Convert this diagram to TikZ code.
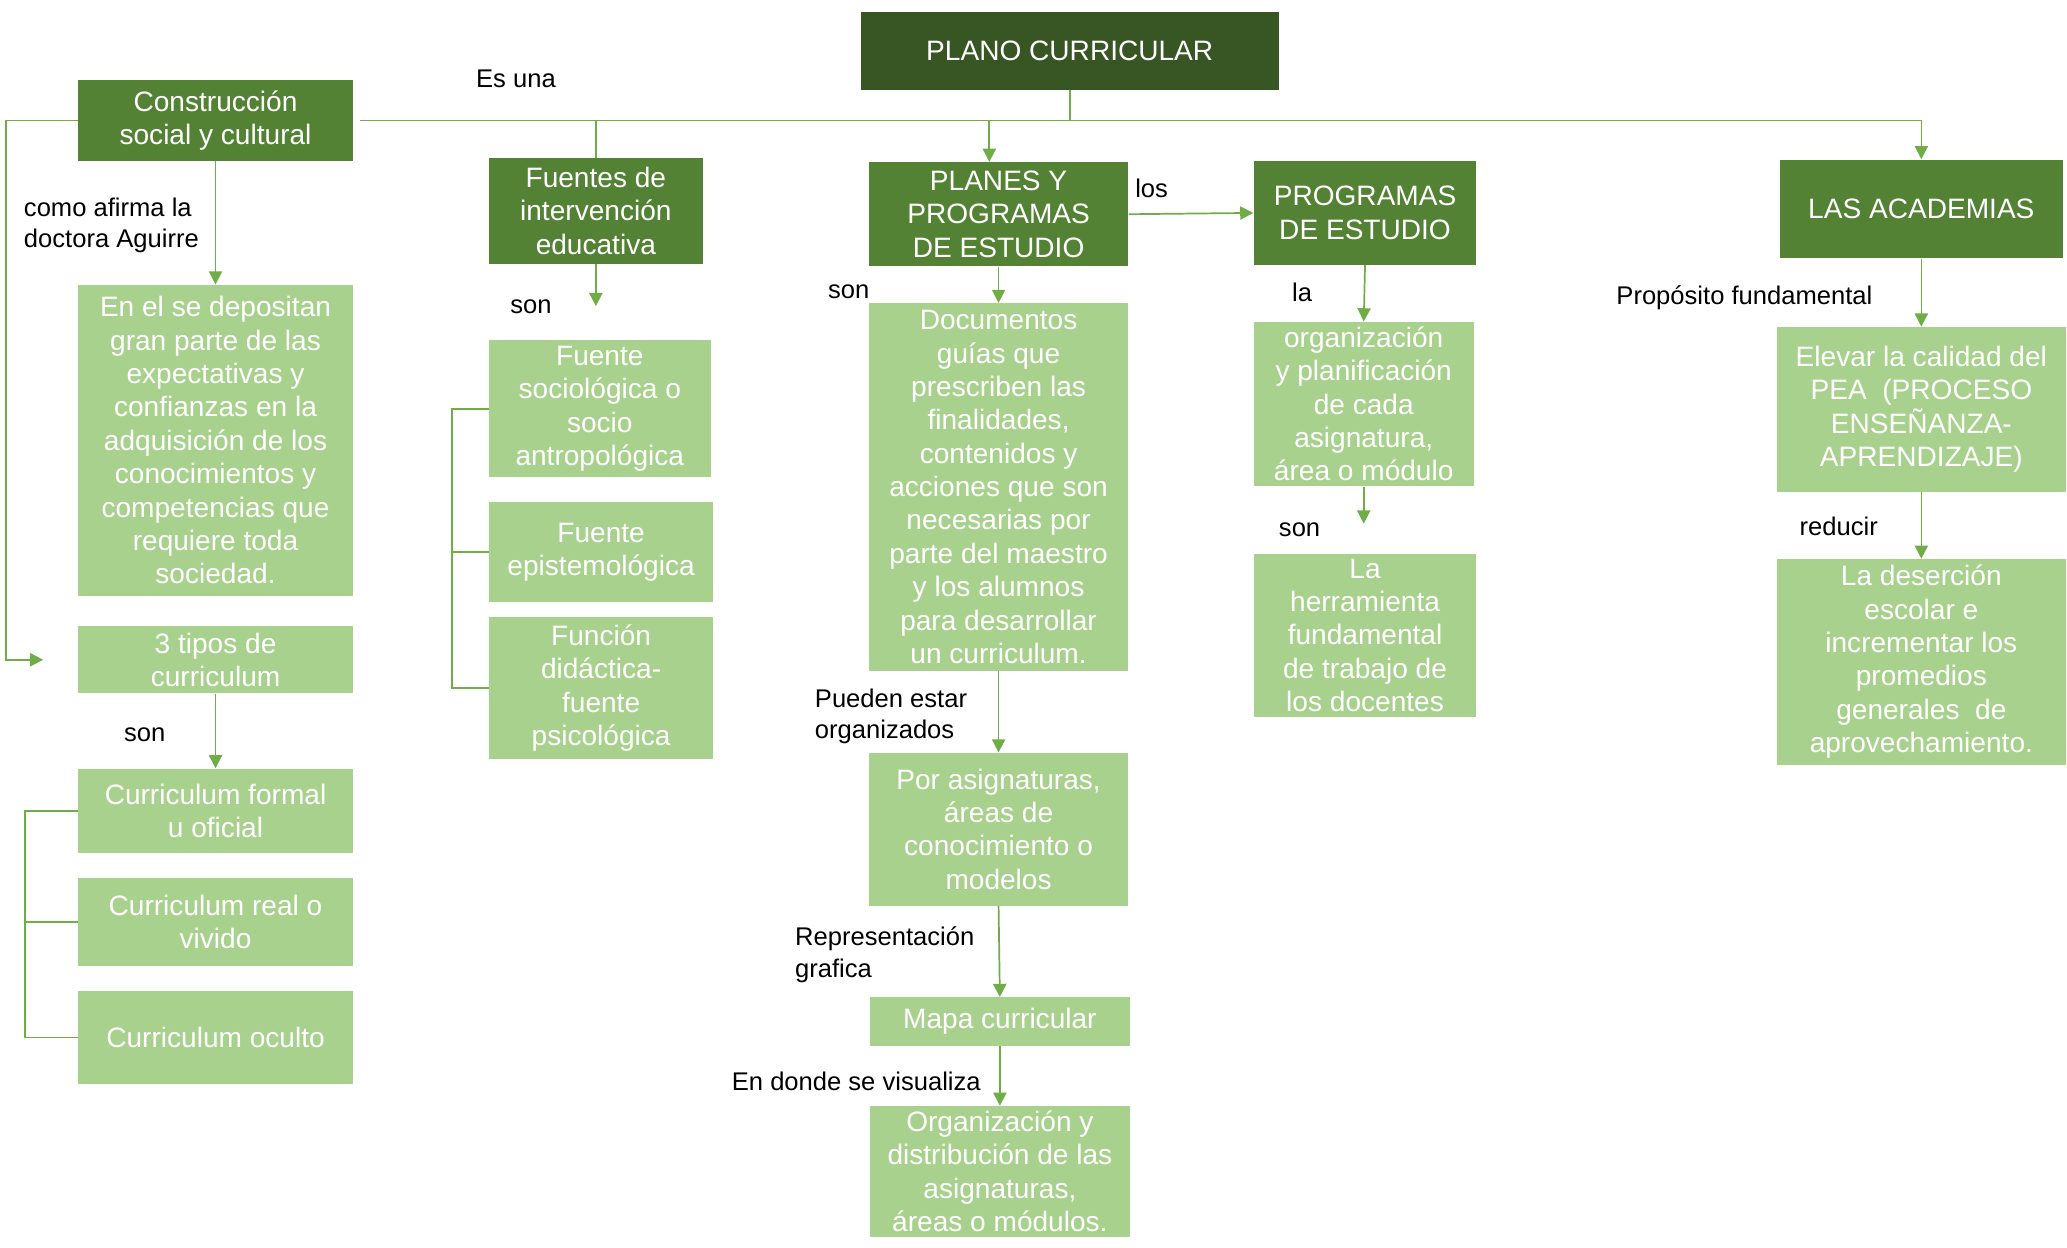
\documentclass[tikz,border=0pt]{standalone}
\usepackage{fontspec}
\setmainfont{Liberation Sans}
\usetikzlibrary{arrows.meta}
\definecolor{darkgreen}{HTML}{375623}
\definecolor{midgreen}{HTML}{548235}
\definecolor{lightgreen}{HTML}{A9D18E}
\definecolor{linegreen}{HTML}{70AD47}

\begin{document}
\begin{tikzpicture}[
  x=1pt,
  y=-1pt,
  box/.style={
    inner sep=0pt,
    align=center,
    text=white,
    font=\fontsize{21.3}{25.3}\selectfont
  },
  topbox/.style={
    box,
    fill=darkgreen
  },
  darkbox/.style={
    box,
    fill=midgreen
  },
  lightbox/.style={
    box,
    fill=lightgreen
  },
  link/.style={
    draw=linegreen,
    line width=1.3pt
  },
  arrowlink/.style={
    link,
    -{Triangle[length=10pt,width=10pt]}
  },
  lbl/.style={
    inner sep=0pt,
    anchor=west,
    align=left,
    yshift=-2pt,
    font=\fontsize{19.4}{24}\selectfont
  },
]
\fill[white] (0,0) rectangle (1568,946);
\useasboundingbox (0,0) rectangle (1568,946);

% top row
\node[topbox, minimum width=317pt, minimum height=59pt] (plano) at (811.5,38.5) {PLANO CURRICULAR};
\node[darkbox, minimum width=209pt, minimum height=61pt] (cons) at (163.5,91.5) {Construcción\\social y cultural};
\node[darkbox, minimum width=162pt, minimum height=80pt] (fuentes) at (452,160) {Fuentes de\\intervención\\educativa};
\node[darkbox, minimum width=197pt, minimum height=79pt] (planes) at (757.5,162.5) {PLANES Y\\PROGRAMAS\\DE ESTUDIO};
\node[darkbox, minimum width=169pt, minimum height=79pt] (programas) at (1035.5,161.5) {PROGRAMAS\\DE ESTUDIO};
\node[darkbox, minimum width=215pt, minimum height=75pt] (academias) at (1457.5,158.5) {LAS ACADEMIAS};

% first column
\node[lightbox, minimum width=209pt, minimum height=236pt] (deposit) at (163.5,334) {En el se depositan\\gran parte de las\\expectativas y\\confianzas en la\\adquisición de los\\conocimientos y\\competencias que\\requiere toda\\sociedad.};
\node[lightbox, minimum width=209pt, minimum height=51pt] (tipos) at (163.5,500.5) {3 tipos de\\curriculum};
\node[lightbox, minimum width=209pt, minimum height=64pt] (formal) at (163.5,615) {Curriculum formal\\u oficial};
\node[lightbox, minimum width=209pt, minimum height=67pt] (real) at (163.5,699.5) {Curriculum real o\\vivido};
\node[lightbox, minimum width=209pt, minimum height=70pt] (oculto) at (163.5,787) {Curriculum oculto};

% fuentes
\node[lightbox, minimum width=168pt, minimum height=104pt] (socio) at (455,310) {Fuente\\sociológica o\\socio\\antropológica};
\node[lightbox, minimum width=170pt, minimum height=76pt] (episte) at (456,419) {Fuente\\epistemológica};
\node[lightbox, minimum width=170pt, minimum height=108pt] (didact) at (456,522) {Función\\didáctica-\\fuente\\psicológica};

% planes y programas
\node[lightbox, minimum width=197pt, minimum height=279pt] (docs) at (757.5,369.5) {Documentos\\guías que\\prescriben las\\finalidades,\\contenidos y\\acciones que son\\necesarias por\\parte del maestro\\y los alumnos\\para desarrollar\\un curriculum.};
\node[lightbox, minimum width=197pt, minimum height=116pt] (asign) at (757.5,629) {Por asignaturas,\\áreas de\\conocimiento o\\modelos};
\node[lightbox, minimum width=197pt, minimum height=37pt] (mapa) at (758.5,775) {Mapa curricular};
\node[lightbox, minimum width=197pt, minimum height=99pt] (distrib) at (758.5,888.5) {Organización y\\distribución de las\\asignaturas,\\áreas o módulos.};

% programas
\node[lightbox, minimum width=167pt, minimum height=125pt] (planif) at (1034.5,306.5) {organización\\y planificación\\de cada\\asignatura,\\área o módulo};
\node[lightbox, minimum width=169pt, minimum height=124pt] (herram) at (1035.5,482) {La\\herramienta\\fundamental\\de trabajo de\\los docentes};

% academias
\node[lightbox, minimum width=219pt, minimum height=125pt] (elevar) at (1457.5,310.5) {Elevar la calidad del\\PEA~~(PROCESO\\ENSEÑANZA-\\APRENDIZAJE)};
\node[lightbox, minimum width=219pt, minimum height=156pt] (desercion) at (1457.5,502) {La deserción\\escolar e\\incrementar los\\promedios\\generales~~de\\aprovechamiento.};

% free ends
\coordinate (busL) at ([xshift=5pt]cons.east);
\coordinate (loopend) at ([xshift=-26pt]tipos.west);
\coordinate (fuentesend) at ([yshift=-32pt]fuentes.south);
\coordinate (planifend) at ([yshift=-28pt]planif.south);

% connectors
\draw[link] (plano.south) -- (plano.south |- busL);
\draw[arrowlink] (busL) -| (academias.north);
\draw[link] (fuentes.north |- busL) -- (fuentes.north);
\draw[arrowlink] ([xshift=-7pt]planes.north |- busL) -- ([xshift=-7pt]planes.north);
\draw[arrowlink] (cons.west) -- ++(-54,0) |- (loopend);
\draw[arrowlink] (cons.south) -- (deposit.north);
\draw[arrowlink] (fuentes.south) -- (fuentesend);
\draw[link] (socio.west) -- ++(-28,0) |- (didact.west);
\draw[link] (episte.west) -- ++(-28,0);
\draw[arrowlink] (tipos.south) -- (formal.north);
\draw[link] (formal.west) -- ++(-40,0) |- (oculto.west);
\draw[link] (real.west) -- ++(-40,0);
\draw[arrowlink] (planes.east) -- (programas.west);
\draw[arrowlink] (planes.south) -- (docs.north);
\draw[arrowlink] (docs.south) -- (asign.north);
\draw[arrowlink] (asign.south) -- (mapa.north);
\draw[arrowlink] (mapa.south) -- (distrib.north);
\draw[arrowlink] (programas.south) -- (planif.north);
\draw[arrowlink] (planif.south) -- (planifend);
\draw[arrowlink] (academias.south) -- (elevar.north);
\draw[arrowlink] (elevar.south) -- (desercion.north);

% labels
\node[lbl] (esuna) at (361,58) {Es una};
\node[lbl] (aguirre) at (18,169) {como afirma la\\doctora Aguirre};
\node[lbl] (sonfuentes) at (387,231) {son};
\node[lbl] (sontipos) at (94,555) {son};
\node[lbl] (los) at (861,141) {los};
\node[lbl] (sonplanes) at (628,219) {son};
\node[lbl] (pueden) at (618,541.5) {Pueden estar\\organizados};
\node[lbl] (repr) at (603,722) {Representación\\grafica};
\node[lbl] (visualiza) at (555,818) {En donde se visualiza};
\node[lbl] (la) at (980,220) {la};
\node[lbl] (sonplanif) at (970,400) {son};
\node[lbl] (proposito) at (1226,224) {Propósito fundamental};
\node[lbl] (reducir) at (1365,397) {reducir};
\end{tikzpicture}
\end{document}
